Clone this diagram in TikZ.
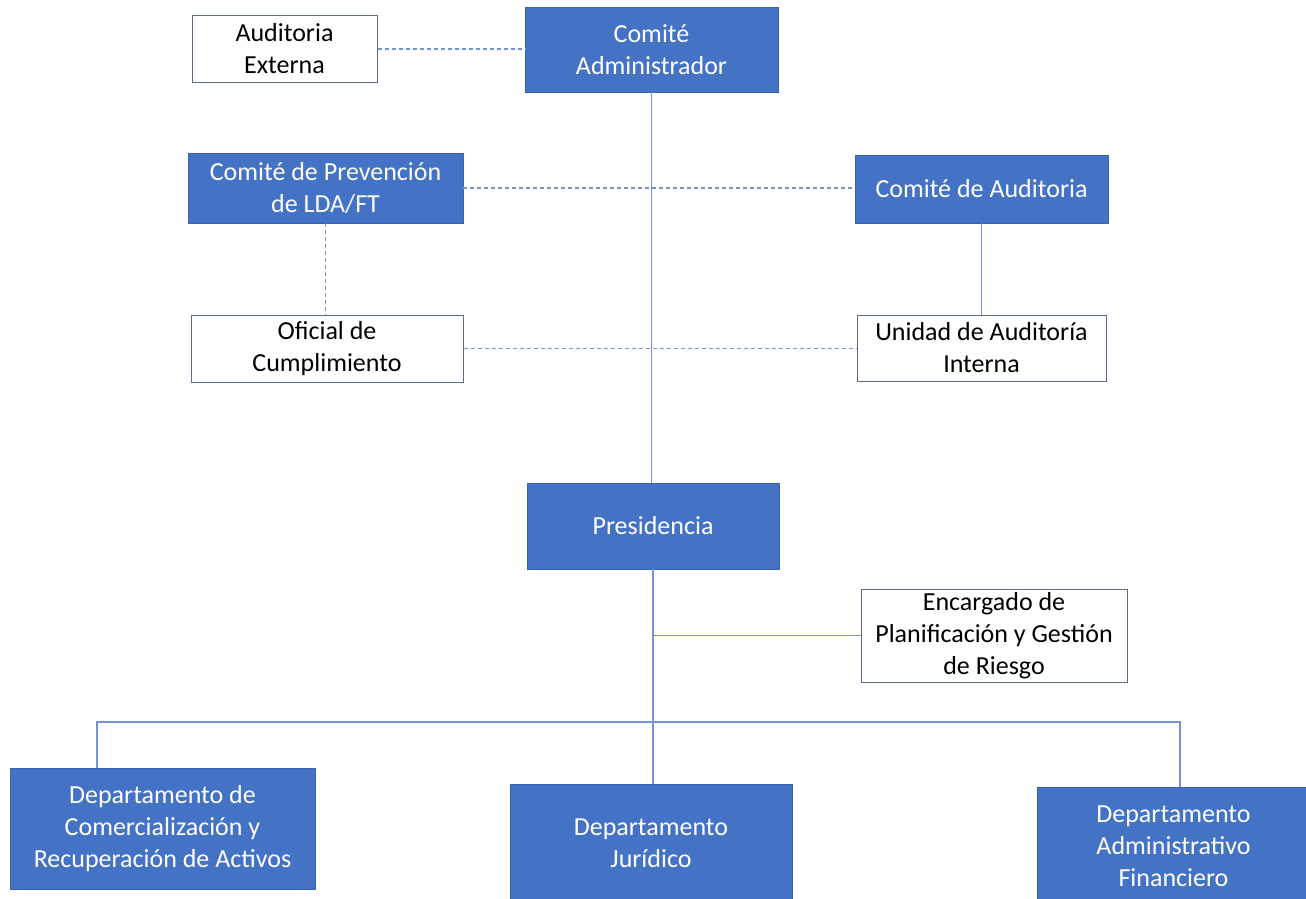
\documentclass[tikz,border=0pt]{standalone}
\usepackage{fontspec}
\setmainfont{Carlito}
\definecolor{boxblue}{HTML}{4472C4}
\definecolor{boxedge}{HTML}{3A62AE}
\definecolor{lineblue}{HTML}{7395D6}
\definecolor{grayedge}{HTML}{5E6E8A}
\begin{document}
\begin{tikzpicture}[x=1pt,y=-1pt,
  base/.style={rectangle,inner sep=0pt,align=center,font=\fontsize{26}{32}\selectfont},
  bluebox/.style={base,fill=boxblue,draw=boxedge,line width=0.8pt,text=white},
  whitebox/.style={base,fill=white,draw=grayedge,line width=1pt,text=black},
  solidline/.style={draw=lineblue,line width=1.5pt},
  dashline/.style={draw=lineblue,line width=1.5pt,dash pattern=on 4pt off 3pt}]
\useasboundingbox (0,0) rectangle (1306,899);
\fill[white] (0,0) rectangle (1306,899);
% nodes
\node[whitebox,minimum width=185pt,minimum height=66pt] (ae) at (284.5,49) {Auditoria\\Externa};
\node[bluebox,minimum width=253pt,minimum height=85pt] (ca) at (651.5,49.5) {Comité\\Administrador};
\node[bluebox,minimum width=275pt,minimum height=70pt] (cp) at (325.5,188) {Comité de Prevención\\de LDA/FT};
\node[bluebox,minimum width=253pt,minimum height=68pt] (cau) at (981.5,189) {Comité de Auditoria};
\node[whitebox,minimum width=272pt,minimum height=67pt] (oc) at (327,348.5) {Oficial de\\Cumplimiento};
\node[whitebox,minimum width=249pt,minimum height=66pt] (ua) at (981.5,348) {Unidad de Auditoría\\Interna};
\node[bluebox,minimum width=252pt,minimum height=86pt] (pr) at (653,526) {Presidencia};
\node[whitebox,minimum width=266pt,minimum height=93pt] (en) at (994,635.5) {Encargado de\\Planificación y Gestión\\de Riesgo};
\node[bluebox,minimum width=305pt,minimum height=121pt] (d1) at (162.5,828.5) {Departamento de\\Comercialización y\\Recuperación de Activos};
\node[bluebox,minimum width=282pt,minimum height=118pt] (d2) at (651,843) {Departamento\\Jurídico};
\node[bluebox,minimum width=273pt,minimum height=118pt] (d3) at (1173.5,846) {Departamento\\Administrativo\\Financiero};
% connectors
\draw[dashline] (ae.east) -- (ae.east -| ca.west);
\draw[solidline] (ca.south) -- (ca.south |- pr.north);
\draw[dashline] (cp.east) -- (cp.east -| cau.west);
\draw[dashline] (cp.south) -- (cp.south |- oc.north);
\draw[solidline] (cau.south) -- (cau.south |- ua.north);
\draw[dashline] (oc.east) -- (oc.east -| ua.west);
\draw[solidline] (pr.south) -- (pr.south |- d2.north);
\draw[solidline] (pr.south |- en.west) -- (en.west);
\coordinate (jl) at (97,722);
\coordinate (jr) at (1180,722);
\draw[solidline] (jl |- d1.north) -- (jl) -- (jr) -- (jr |- d3.north);
\end{tikzpicture}
\end{document}
